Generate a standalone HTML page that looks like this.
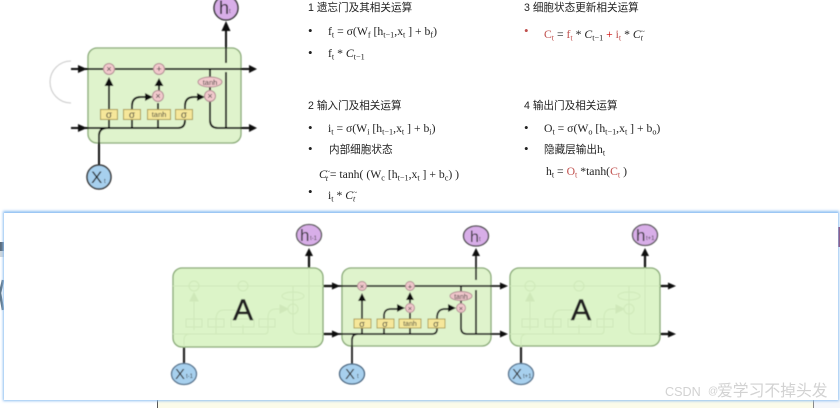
<!DOCTYPE html>
<html><head><meta charset="utf-8">
<style>
html,body{margin:0;padding:0;background:#fff}
#p{position:relative;width:840px;height:408px;overflow:hidden;background:#fff;font-family:"Liberation Serif","Noto Sans CJK SC",serif;color:#222}
svg{position:absolute;left:0;top:0}
.t{position:absolute;white-space:nowrap;font-size:11.7px;line-height:14px;filter:blur(.25px)}
.h{font-family:"Liberation Sans","Noto Sans CJK SC",sans-serif;font-size:10.6px}
.t sub{font-size:8.2px;line-height:0;vertical-align:-2.5px}
.b{font-size:13px}
.r{color:#c0504d}
i{font-style:italic}
.g{font-size:7px;vertical-align:4px;margin-left:-2px}
#w{position:absolute;left:665px;top:383px;font:12.6px/18px "Liberation Sans","Noto Sans CJK SC",sans-serif;color:#d2d2d2;white-space:nowrap}
#w b{position:absolute;left:43px;top:0;font-weight:normal;font-size:10px}
#w span{position:absolute;left:52px;top:0;font-size:15.8px;width:120px}
</style></head><body><div id="p">
<svg width="840" height="408" viewBox="0 0 840 408" xmlns="http://www.w3.org/2000/svg">
<defs>
<filter id="b" x="-5%" y="-5%" width="110%" height="110%"><feGaussianBlur stdDeviation="0.45"/></filter>
<filter id="s" x="-2%" y="-10%" width="104%" height="120%"><feGaussianBlur stdDeviation="1.4"/></filter>
</defs>
<!-- background bits -->
<rect x="157" y="400" width="683" height="8" fill="#fbfbe9"/>
<rect x="157" y="400" width="1" height="8" fill="#555"/>
<rect x="813" y="400" width="1" height="8" fill="#888"/>
<rect x="814" y="400" width="26" height="8" fill="#f4f6fa"/>
<rect x="0" y="242" width="4" height="9" fill="#5a6b7c"/>
<rect x="0" y="251" width="4" height="6" fill="#cfd6dc"/>
<path d="M3 280 L0 293 L3 310" fill="none" stroke="#5f7689" stroke-width="2.5"/>
<rect x="838" y="227" width="2" height="20" fill="#8a2a55"/>
<rect x="3" y="211" width="836" height="190" fill="#8fc0f2" filter="url(#s)"/>
<rect x="4" y="213" width="834" height="187" fill="#fff"/>

<g filter="url(#b)">
<!-- top cell -->
<path d="M71 61 A21 21 0 0 0 71 103" fill="none" stroke="#c9c9c9" stroke-width="1"/>
<rect x="88" y="48" width="153" height="95" rx="9" fill="#dff3cc" stroke="#86a874" stroke-width="1.3"/>
<g fill="none" stroke="#111" stroke-width="2">
<path d="M71 69H252"/>
<path d="M71 128H178Q185 128 185 120V106Q185 97 194 97H199"/>
<path d="M99 165V136Q99 128 107 128"/>
<path d="M109 128V84"/>
<path d="M132 128V106Q132 97 141 97H147"/>
<path d="M158 128V103"/>
<path d="M159 91V84"/>
<path d="M210 69V90"/>
<path d="M210 100V120Q210 128 218 128H252"/>
<path d="M226 128V72"/>
<path d="M226 63V29"/>
</g>
<g fill="#111">
<path d="M78 65L87 69L78 73Z"/>
<path d="M78 124L87 128L78 132Z"/>
<path d="M257 69L249 65V73Z"/>
<path d="M257 128L249 124V132Z"/>
<path d="M109 77L104.500 86H113.500Z"/>
<path d="M159 78L154.500 86H163.500Z"/>
<path d="M153 97L145 93V101Z"/>
<path d="M205 97L197 93V101Z"/>
<path d="M226 21L221.500 31H230.500Z"/>
</g>
<g fill="#f2c9cc" stroke="#b08a92" stroke-width="1">
<circle cx="109" cy="69" r="5.500"/><circle cx="159" cy="69" r="5.500"/>
<circle cx="158" cy="96" r="5.500"/><circle cx="210" cy="96" r="5.500"/>
<ellipse cx="210" cy="82" rx="12" ry="5"/>
</g>
<g fill="#f6e79a" stroke="#a99a4e" stroke-width="1">
<rect x="100.500" y="109.500" width="17" height="10"/><rect x="123.500" y="109.500" width="17" height="10"/>
<rect x="147.500" y="109.500" width="23" height="10"/><rect x="175.500" y="109.500" width="17" height="10"/>
</g>
<g font-family="Liberation Sans,sans-serif" fill="#333" text-anchor="middle">
<text x="109" y="72" font-size="9">×</text><text x="159" y="72" font-size="9">+</text>
<text x="158" y="99" font-size="9">×</text><text x="210" y="99" font-size="9">×</text>
<text x="210" y="85" font-size="7.500">tanh</text>
<text x="109" y="118" font-size="10">σ</text><text x="132" y="118" font-size="10">σ</text>
<text x="159" y="117" font-size="7.500">tanh</text><text x="184" y="118" font-size="10">σ</text>
</g>
<circle cx="226" cy="8" r="12" fill="#d8aee8" stroke="#333" stroke-width="1.500"/>
<circle cx="99" cy="177" r="12" fill="#a7d0ee" stroke="#333" stroke-width="1.500"/>
<g font-family="Liberation Sans,sans-serif" fill="#222">
<text x="219" y="14" font-size="18">h</text><text x="229" y="13" font-size="6">t</text>
<text x="91" y="183" font-size="17">X</text><text x="104" y="183" font-size="6">t</text>
</g>

<!-- left cell -->
<path d="M309 268V254" stroke="#111" stroke-width="2.200"/>
<path d="M309 248L305 256H313Z" fill="#111"/>
<path d="M184 347V363" stroke="#222" stroke-width="2.200"/>
<g stroke="#111" stroke-width="2.200"><path d="M323 286H336M323 334H336"/></g>
<path d="M340 286L332 282.500V289.500ZM340 334L332 330.500V337.500Z" fill="#111"/>
<rect x="173" y="268" width="150" height="79" rx="9" fill="#dcf4c8" stroke="#86a874" stroke-width="1.300"/>
<g fill="none" stroke="#cfe8b9" stroke-width="1">
<path d="M173 286H323M173 334H265Q268 334 268 330V318Q268 309 276 309H288M184 347V340Q184 334 190 334M194 330V293M216 334V320Q216 310 224 310H236M243 334V325M293 286V328Q293 334 299 334H323M309 268V334"/>
<circle cx="194" cy="286" r="5"/><circle cx="243" cy="286" r="5"/><circle cx="293" cy="309" r="5"/><ellipse cx="293" cy="296" rx="11" ry="4"/>
<rect x="186" y="319" width="16" height="8"/><rect x="208" y="319" width="16" height="8"/><rect x="231" y="319" width="23" height="8"/><rect x="259" y="319" width="16" height="8"/>
<path d="M194 293L190 301H198ZM288 309L280 305V313Z" fill="#cfe8b9"/>
</g>
<text x="243" y="320" font-family="Liberation Sans,sans-serif" font-size="30" text-anchor="middle" fill="#222" stroke="#222" stroke-width=".6">A</text>
<ellipse cx="309" cy="235" rx="12.500" ry="10.500" fill="#d8aee8" stroke="#555" stroke-width="1.300"/>
<ellipse cx="184" cy="374" rx="12.500" ry="10.500" fill="#a7d0ee" stroke="#55708a" stroke-width="1.300"/>
<g font-family="Liberation Sans,sans-serif" fill="#333">
<text x="300" y="241" font-size="17">h</text><text x="310" y="240" font-size="6">t-1</text>
<text x="175" y="379" font-size="15">X</text><text x="186" y="378" font-size="6">t-1</text>
</g>

<!-- middle cell -->
<rect x="342" y="268" width="149" height="78" rx="9" fill="#dff3cc" stroke="#86a874" stroke-width="1.300"/>
<g fill="none" stroke="#1a1a1a" stroke-width="1.800">
<path d="M333 286H502"/>
<path d="M333 334H432Q437 334 437 329V318Q437 309 445 309H450"/>
<path d="M352 364V340Q352 334 358 334"/>
<path d="M362 334V300"/>
<path d="M384 334V316Q384 309 391 309H399"/>
<path d="M410 334V313"/>
<path d="M410 303V298"/>
<path d="M461 286V303"/>
<path d="M461 313V328Q461 334 467 334H502"/>
<path d="M476 334V290"/>
<path d="M476 280V254"/>
</g>
<g fill="#111">
<path d="M340 286L332 282.500V289.500ZM340 334L332 330.500V337.500Z"/>
<path d="M508 286L500 282.500V289.500ZM508 334L500 330.500V337.500Z"/>
<path d="M362 293L358 301H366Z"/>
<path d="M410 292L406 300H414Z"/>
<path d="M405 308L397 304V312Z"/>
<path d="M456 308L448 304V312Z"/>
<path d="M476 248L472 256H480Z"/>
</g>
<g fill="#efc6ca" stroke="#b08a92" stroke-width=".9">
<circle cx="362" cy="286" r="4.500"/><circle cx="410" cy="286" r="4.500"/><circle cx="410" cy="308" r="4.500"/><circle cx="461" cy="308" r="4.500"/>
<ellipse cx="461" cy="296" rx="11" ry="4.500"/>
</g>
<g fill="#f6e79a" stroke="#a99a4e" stroke-width=".9">
<rect x="354" y="319" width="17" height="9"/><rect x="377" y="319" width="17" height="9"/><rect x="399" y="319" width="22" height="9"/><rect x="428" y="319" width="17" height="9"/>
</g>
<g font-family="Liberation Sans,sans-serif" fill="#333" text-anchor="middle">
<text x="362" y="289" font-size="7.500">×</text><text x="410" y="289" font-size="7.500">+</text><text x="410" y="311" font-size="7.500">×</text><text x="461" y="311" font-size="7.500">×</text>
<text x="461" y="299" font-size="7">tanh</text>
<text x="362" y="327" font-size="9">σ</text><text x="385" y="327" font-size="9">σ</text><text x="410" y="326" font-size="7">tanh</text><text x="436" y="327" font-size="9">σ</text>
</g>
<ellipse cx="476" cy="236" rx="12.500" ry="10" fill="#d8aee8" stroke="#444" stroke-width="1.300"/>
<ellipse cx="352" cy="374" rx="12.500" ry="10" fill="#a7d0ee" stroke="#44617c" stroke-width="1.300"/>
<g font-family="Liberation Sans,sans-serif" fill="#333">
<text x="470" y="242" font-size="16">h</text><text x="479" y="241" font-size="6">t</text>
<text x="345" y="379" font-size="15">X</text><text x="357" y="378" font-size="6">t</text>
</g>

<!-- right cell -->
<path d="M645 268V254" stroke="#111" stroke-width="2.200"/>
<path d="M645 248L641 256H649Z" fill="#111"/>
<path d="M521 347V363" stroke="#222" stroke-width="2.200"/>
<g stroke="#111" stroke-width="2.200"><path d="M660 286H672M660 334H672"/></g>
<path d="M676 286L668 282.500V289.500ZM676 334L668 330.500V337.500Z" fill="#111"/>
<rect x="510" y="268" width="150" height="78" rx="9" fill="#dcf4c8" stroke="#86a874" stroke-width="1.300"/>
<g fill="none" stroke="#cfe8b9" stroke-width="1">
<path d="M510 286H660M510 334H601Q604 334 604 330V318Q604 309 612 309H624M521 347V340Q521 334 527 334M530 330V293M553 334V320Q553 310 561 310H573M579 334V325M629 286V328Q629 334 635 334H660M645 268V334"/>
<circle cx="530" cy="286" r="5"/><circle cx="579" cy="286" r="5"/><circle cx="629" cy="309" r="5"/><ellipse cx="629" cy="296" rx="11" ry="4"/>
<rect x="522" y="319" width="16" height="8"/><rect x="545" y="319" width="16" height="8"/><rect x="568" y="319" width="23" height="8"/><rect x="597" y="319" width="16" height="8"/>
<path d="M530 293L526 301H534ZM624 309L616 305V313Z" fill="#cfe8b9"/>
</g>
<text x="581" y="320" font-family="Liberation Sans,sans-serif" font-size="30" text-anchor="middle" fill="#222" stroke="#222" stroke-width=".6">A</text>
<ellipse cx="645" cy="235" rx="12.500" ry="10.500" fill="#d8aee8" stroke="#555" stroke-width="1.300"/>
<ellipse cx="521" cy="374" rx="12.500" ry="10.500" fill="#a7d0ee" stroke="#55708a" stroke-width="1.300"/>
<g font-family="Liberation Sans,sans-serif" fill="#333">
<text x="636" y="241" font-size="17">h</text><text x="646" y="240" font-size="6">t+1</text>
<text x="512" y="379" font-size="15">X</text><text x="523" y="378" font-size="6">t+1</text>
</g>
</g>
</svg>

<div class="t h" style="left:308px;top:1px">1 遗忘门及其相关运算</div>
<div class="t b" style="left:308px;top:24px">•</div>
<div class="t" style="left:328px;top:25px">f<sub>t</sub> = σ(W<sub>f</sub> [h<sub>t−1</sub>,x<sub>t</sub> ] + b<sub>f</sub>)</div>
<div class="t b" style="left:308px;top:46px">•</div>
<div class="t" style="left:328px;top:47px">f<sub>t</sub> * <i>C</i><sub>t−1</sub></div>

<div class="t h" style="left:308px;top:99px">2 输入门及相关运算</div>
<div class="t b" style="left:308px;top:121px">•</div>
<div class="t" style="left:328px;top:122px">i<sub>t</sub> = σ(W<sub>i</sub> [h<sub>t−1</sub>,x<sub>t</sub> ] + b<sub>i</sub>)</div>
<div class="t b" style="left:308px;top:142px">•</div>
<div class="t h" style="left:329px;top:143px">内部细胞状态</div>
<div class="t" style="left:319px;top:165px"><i>C</i><sub style="margin-left:-1px"><i>t</i></sub><span class="g">~</span>= tanh( (W<sub>c</sub> [h<sub>t−1</sub>,x<sub>t</sub> ] + b<sub>c</sub>) )</div>
<div class="t b" style="left:308px;top:185px">•</div>
<div class="t" style="left:328px;top:186px">i<sub>t</sub> * <i>C</i><sub><i>t</i></sub><span class="g">~</span></div>

<div class="t h" style="left:524px;top:1px">3 细胞状态更新相关运算</div>
<div class="t r b" style="left:524px;top:24px">•</div>
<div class="t" style="left:544px;top:25px"><span class="r">C<sub>t</sub></span> = <span class="r">f<sub>t</sub></span> * <i>C</i><sub>t−1</sub> <span style="color:#c00">+</span> <span class="r">i<sub>t</sub></span> * <i>C</i><sub><i>t</i></sub><span class="g">~</span></div>

<div class="t h" style="left:524px;top:99px">4 输出门及相关运算</div>
<div class="t b" style="left:524px;top:121px">•</div>
<div class="t" style="left:544px;top:122px">O<sub>t</sub> = σ(W<sub>o</sub> [h<sub>t−1</sub>,x<sub>t</sub> ] + b<sub>o</sub>)</div>
<div class="t b" style="left:524px;top:142px">•</div>
<div class="t" style="left:544px;top:143px"><span class="h">隐藏层输出</span>h<sub>t</sub></div>
<div class="t" style="left:546px;top:165px">h<sub>t</sub> = <span class="r">O<sub>t</sub></span> *tanh(<span class="r">C<sub>t</sub></span> )</div>

<div id="w">CSDN<b>@</b><span>爱学习不掉头发</span></div>
</div></body></html>
